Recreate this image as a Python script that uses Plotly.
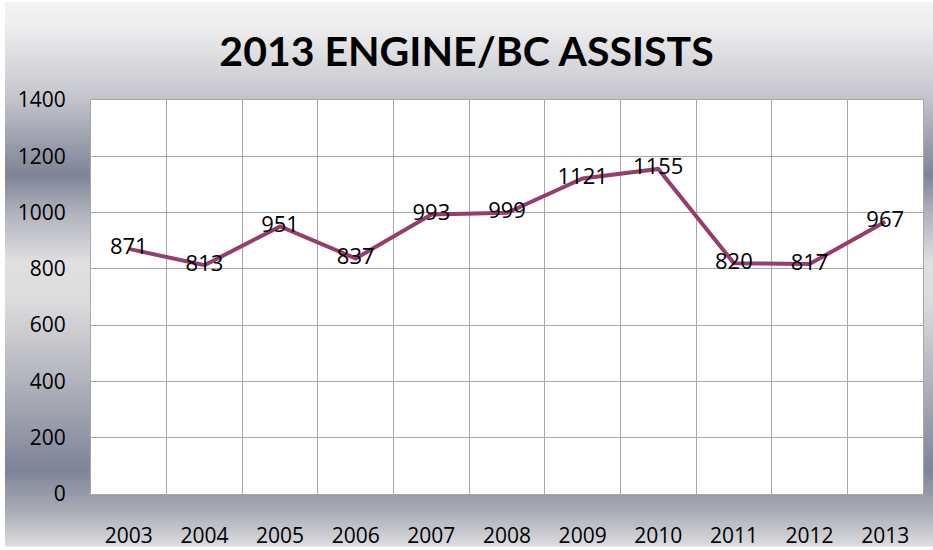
import plotly.graph_objects as go

years = ["2003", "2004", "2005", "2006", "2007", "2008", "2009", "2010", "2011", "2012", "2013"]
assists = [871, 813, 951, 837, 993, 999, 1121, 1155, 820, 817, 967]
y_ticks = [0, 200, 400, 600, 800, 1000, 1200, 1400]

W, H = 933, 550
ML, MR, MT, MB = 91, 10, 100, 56
PW, PH = W - ML - MR, H - MT - MB

# background gradient stops (pixel y, rgb)
stops = [
    (0, (245, 245, 245)), (30, (236, 236, 237)), (95, (198, 199, 205)),
    (175, (126, 131, 150)), (215, (178, 180, 190)), (262, (224, 224, 225)),
    (300, (220, 220, 222)), (380, (178, 180, 188)), (470, (126, 131, 152)),
    (510, (168, 170, 180)), (550, (226, 226, 228)),
]

def color_at(yp):
    for (y0, c0), (y1, c1) in zip(stops[:-1], stops[1:]):
        if y0 <= yp <= y1:
            t = (yp - y0) / (y1 - y0)
            return "rgb(%d,%d,%d)" % tuple(round(a + (b - a) * t) for a, b in zip(c0, c1))
    return "rgb(%d,%d,%d)" % stops[-1][1]

def px_to_paper_y(yp):
    return (MT + PH - yp) / PH

def px_to_paper_x(xp):
    return (xp - ML) / PW

shapes = []
step = 2
for yp in range(2, H - 4, step):
    shapes.append(dict(
        type="rect", xref="paper", yref="paper", layer="below",
        x0=px_to_paper_x(5), x1=px_to_paper_x(W + 2),
        y0=px_to_paper_y(yp + step + 0.5), y1=px_to_paper_y(yp),
        fillcolor=color_at(yp + step / 2), line=dict(width=0),
    ))
shapes.append(dict(type="rect", xref="paper", yref="paper", layer="below",
                   x0=0, x1=1, y0=0, y1=1, fillcolor="white", line=dict(width=0)))

fig = go.Figure()
fig.add_trace(go.Scatter(
    x=years, y=assists, mode="lines+text",
    line=dict(color="#963d6e", width=4),
    text=[str(v) for v in assists], textposition="middle center",
    textfont=dict(family="Open Sans", size=22, color="black"),
    cliponaxis=False, hoverinfo="skip",
))

fig.update_layout(
    width=W, height=H,
    margin=dict(l=ML, r=MR, t=MT, b=MB, autoexpand=False),
    paper_bgcolor="white", plot_bgcolor="white",
    showlegend=False,
    shapes=shapes,
    title=dict(text="<b>2013 ENGINE/BC ASSISTS</b>", x=0.5, xanchor="center",
               y=1 - 52 / H, yanchor="middle",
               font=dict(family="Lato, sans-serif", size=41, color="black")),
    xaxis=dict(type="category", range=[-0.5, 10.5], tickson="boundaries",
               showgrid=True, gridcolor="#a8a8a8", gridwidth=1,
               showline=True, linecolor="#a8a8a8", mirror=True,
               ticks="", ticklabelstandoff=23, automargin=False,
               tickfont=dict(family="Open Sans", size=21, color="black")),
    yaxis=dict(range=[0, 1400], tickvals=y_ticks,
               showgrid=True, gridcolor="#a8a8a8", gridwidth=1,
               showline=True, linecolor="#a8a8a8", mirror=True,
               zeroline=False, ticks="", ticklabelstandoff=20, automargin=False,
               tickfont=dict(family="Open Sans", size=21, color="black")),
)

fig.write_html(
    "out.html",
    config={"displayModeBar": False, "responsive": False},
    post_script="document.body.style.margin='0';document.body.style.overflow='hidden';",
)
